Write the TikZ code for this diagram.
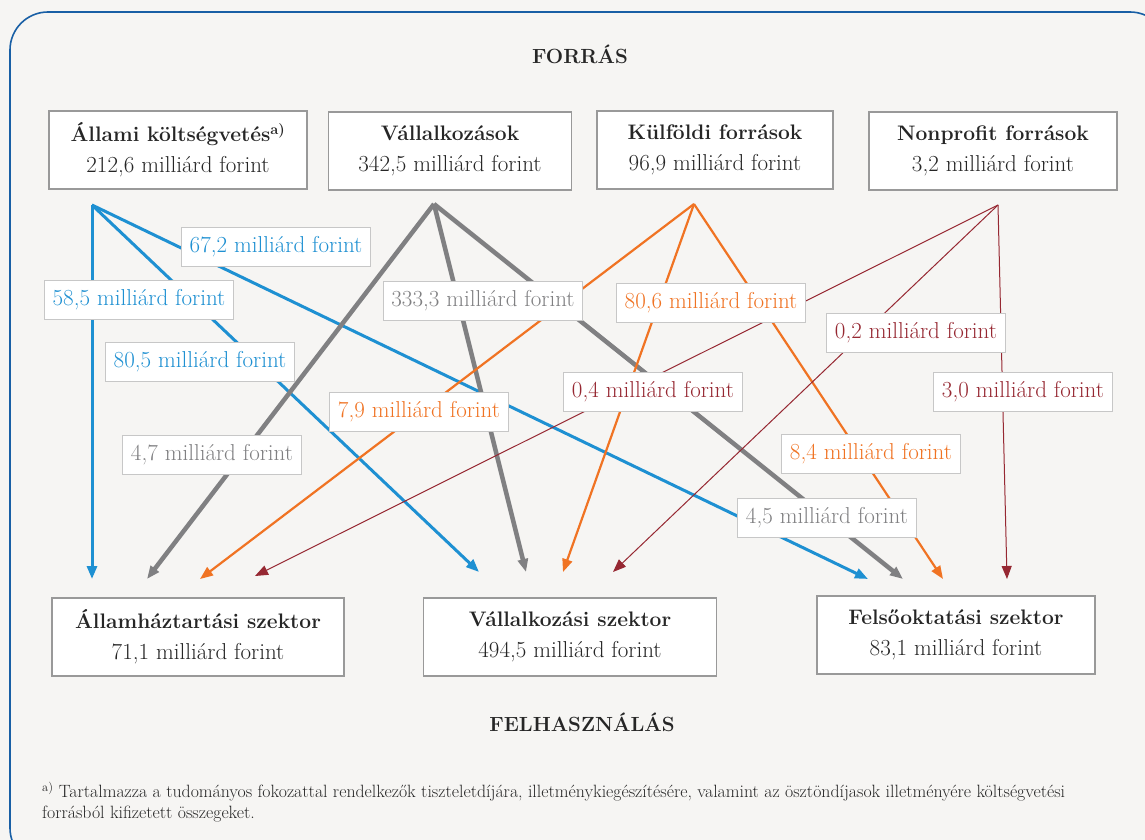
\documentclass[tikz,border=0pt]{standalone}
\usepackage{xcolor}
\usepackage{tikz}
\usetikzlibrary{arrows.meta}

\definecolor{fblue}{RGB}{30,144,210}
\definecolor{fgray}{RGB}{128,128,130}
\definecolor{forange}{RGB}{240,115,35}
\definecolor{fred}{RGB}{150,40,50}
\definecolor{fback}{RGB}{246,245,243}
\definecolor{fframe}{RGB}{25,95,165}

\newcommand\sectitle[1]{{\fontsize{21}{31}\selectfont\bfseries #1}}

\tikzset{
    sector/.style={draw=black!40, fill=white, line width=1.2pt, minimum height=78pt,
        align=center, text=black!85, font=\fontsize{23}{31}\selectfont},
    amount/.style={draw=black!22, fill=white, line width=1pt, minimum height=39pt,
        inner xsep=8pt, font=\fontsize{23}{26}\selectfont},
    flow/.style={-{Triangle[length=13pt,width=10pt]}},
}

\begin{document}
\begin{tikzpicture}[x=1pt,y=-1pt]
        \clip (0,0) rectangle (1145,840);
        \fill[fback] (0,0) rectangle (1145,840);
        \draw[fframe, line width=1.6pt, rounded corners=38pt] (10,12) rectangle (1168,866);

        \node[font=\fontsize{20.5}{24}\selectfont\bfseries, text=black!85] (forras) at (580,54) {FORRÁS};
        \node[font=\fontsize{20.5}{24}\selectfont\bfseries, text=black!85] (felhasznalas) at (582,722) {FELHASZNÁLÁS};

        % forrás
        \node[sector, minimum width=258pt] (allami) at (178,150) {\sectitle{Állami költségvetés\textsuperscript{a)}}\\212,6 milliárd forint};
        \node[sector, minimum width=243pt] (vall) at (450,151) {\sectitle{Vállalkozások}\\342,5 milliárd forint};
        \node[sector, minimum width=236pt] (kulf) at (715,150) {\sectitle{Külföldi források}\\96,9 milliárd forint};
        \node[sector, minimum width=248pt] (nonpr) at (993,151) {\sectitle{Nonprofit források}\\3,2 milliárd forint};

        % felhasználás
        \node[sector, minimum width=292pt] (allhaz) at (198,637) {\sectitle{Államháztartási szektor}\\71,1 milliárd forint};
        \node[sector, minimum width=293pt] (vallsz) at (570,637) {\sectitle{Vállalkozási szektor}\\494,5 milliárd forint};
        \node[sector, minimum width=278pt] (felso) at (956,635) {\sectitle{Felsőoktatási szektor}\\83,1 milliárd forint};

        \coordinate (sA) at (92,205);
        \coordinate (sV) at (434,204);
        \coordinate (sK) at (694,204);
        \coordinate (sN) at (998,205);

        \coordinate (tA1) at (92,579);   \coordinate (tA2) at (479,572);  \coordinate (tA3) at (868,579);
        \coordinate (tV1) at (147,579);  \coordinate (tV2) at (526,572);  \coordinate (tV3) at (903,579);
        \coordinate (tK1) at (200,579);  \coordinate (tK2) at (563,572);  \coordinate (tK3) at (943,579);
        \coordinate (tN1) at (255,576);  \coordinate (tN2) at (613,572);  \coordinate (tN3) at (1007,579);

        \foreach \t in {tA1,tA2,tA3}
            \draw[flow, fblue, line width=3pt] (sA) -- (\t);
        \foreach \t in {tV1,tV2,tV3}
            \draw[flow, fgray, line width=4.5pt] (sV) -- (\t);
        \foreach \t in {tK1,tK2,tK3}
            \draw[flow, forange, line width=2.2pt] (sK) -- (\t);
        \foreach \t in {tN1,tN2,tN3}
            \draw[flow, fred, line width=1pt] (sN) -- (\t);

        \node[amount, text=fblue] (a585) at (139,300) {58,5 milliárd forint};
        \node[amount, text=fblue] (a805) at (200,362) {80,5 milliárd forint};
        \node[amount, text=fblue] (a672) at (276,247) {67,2 milliárd forint};
        \node[amount, text=fgray] (a47) at (212,455) {4,7 milliárd forint};
        \node[amount, text=fgray] (a3333) at (483,301) {333,3 milliárd forint};
        \node[amount, text=fgray] (a45) at (827,518) {4,5 milliárd forint};
        \node[amount, text=forange] (a79) at (419,412) {7,9 milliárd forint};
        \node[amount, text=forange] (a806) at (711,303) {80,6 milliárd forint};
        \node[amount, text=forange] (a84) at (871,454) {8,4 milliárd forint};
        \node[amount, text=fred] (a04) at (653,392) {0,4 milliárd forint};
        \node[amount, text=fred] (a02) at (916,333) {0,2 milliárd forint};
        \node[amount, text=fred] (a30) at (1023,392) {3,0 milliárd forint};

        \node[anchor=west, align=left, inner xsep=0pt, text=black!85, font=\fontsize{17.8}{21}\selectfont] (note) at (42,802)
            {\textsuperscript{a)} Tartalmazza a tudományos fokozattal rendelkezők tiszteletdíjára, illetménykiegészítésére, valamint az ösztöndíjasok illetményére költségvetési\\forrásból kifizetett összegeket.};
    \end{tikzpicture}
\end{document}
